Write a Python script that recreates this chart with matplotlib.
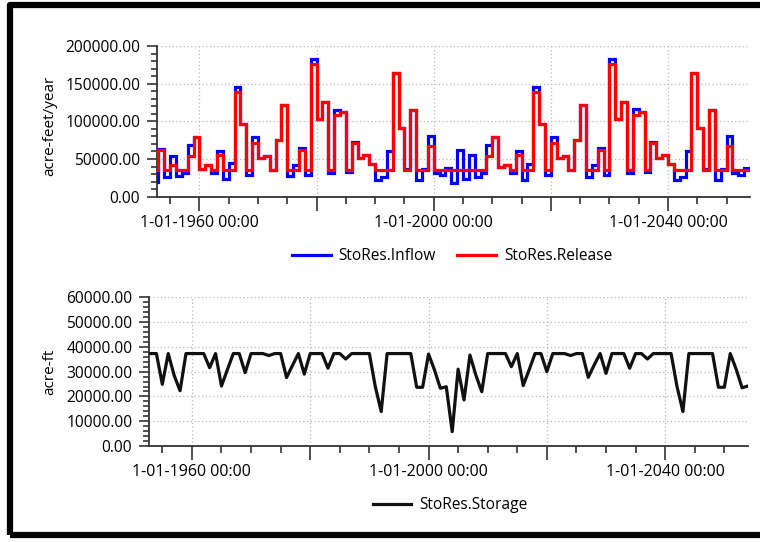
import matplotlib.pyplot as plt
from matplotlib.lines import Line2D
from matplotlib.patches import Rectangle
from matplotlib.ticker import MultipleLocator, FuncFormatter
import numpy as np

plt.rcParams["font.family"] = ["Open Sans", "DejaVu Sans"]

# yearly values, acre-feet/year (step from 1 Jan of each year)
years = list(range(1952, 2054))
inflow = [
    20000, 63000, 25600, 54000, 27000, 32000, 68500, 79000, 36600, 42000,
    31800, 60000, 23000, 44600, 145000, 96000, 28700, 79000, 52000, 54000,
    36000, 75000, 122000, 27000, 42000, 64000, 28700, 183000, 103000, 126000,
    31000, 115000, 113000, 33000, 72000, 52000, 55000, 44000, 22000, 26500,
    60000, 164000, 90600, 36500, 115000, 22000, 36500, 81000, 32000, 28700,
    38500, 17700, 62000, 24000, 55000, 26500, 31800, 68500, 79500, 40000,
    42000, 31800, 60000, 22000, 43000, 146000, 96000, 28700, 79000, 52000,
    54000, 36000, 75000, 122000, 26500, 42000, 64000, 28700, 183000, 103000,
    126000, 31000, 116000, 113000, 33000, 72000, 52000, 55000, 44000, 22000,
    26500, 60000, 164000, 90600, 36500, 115000, 22000, 36500, 81000, 32000,
    28700, 38500,
]
release = [
    36000, 62000, 36000, 41500, 36000, 36000, 54000, 79000, 36600, 42000,
    36000, 55800, 36000, 36000, 139000, 96000, 36000, 71000, 52000, 54000,
    36000, 75000, 122000, 36000, 36000, 62000, 36000, 176000, 103000, 126000,
    36000, 108000, 112000, 36000, 71000, 52000, 55000, 44000, 36000, 36000,
    36000, 164000, 90600, 36000, 115000, 36000, 36000, 67000, 36000, 36000,
    36000, 36000, 36000, 36000, 36000, 36000, 36000, 53500, 79500, 40000,
    42000, 36000, 55800, 36000, 36000, 139000, 96000, 36000, 71000, 52000,
    54000, 36000, 75000, 122000, 36000, 36000, 62000, 36000, 176000, 103000,
    126000, 36000, 108000, 112000, 36000, 71000, 52000, 55000, 44000, 36000,
    36000, 36000, 164000, 90600, 36000, 115000, 36000, 36000, 67000, 36000,
    36000, 36000,
]

# storage at 1 Jan of each year, acre-ft
storage_years = list(range(1952, 2055))
storage = [
    37300, 37300, 37300, 24900, 37300, 28500, 22300, 37300, 37300, 37300,
    37300, 31600, 37300, 24200, 30800, 37300, 37300, 29600, 37300, 37300,
    37300, 36500, 37300, 37300, 27600, 32500, 37300, 29000, 37300, 37300,
    37300, 31400, 37300, 37300, 35100, 37300, 37300, 37300, 37300, 24000,
    13900, 37300, 37300, 37300, 37300, 37300, 23700, 23700, 37100, 30700,
    23300, 23900, 5800, 31000, 18600, 36700, 28600, 21900, 37300, 37300,
    37300, 37300, 32000, 37300, 24400, 30700, 37300, 37300, 30000, 37300,
    37300, 37300, 36500, 37300, 37300, 27700, 32700, 37300, 29300, 37300,
    37300, 37300, 31400, 37300, 37300, 35100, 37300, 37300, 37300, 37300,
    24000, 13900, 37300, 37300, 37300, 37300, 37300, 23700, 23700, 37300,
    31000, 23500, 24200,
]

W, H = 760, 542
fig = plt.figure(figsize=(W / 100, H / 100), dpi=100)
ax1 = fig.add_axes([157 / W, 1 - 196.7 / H, 593 / W, 150.7 / H])
ax2 = fig.add_axes([149 / W, 1 - 446 / H, 599 / W, 148.7 / H])

edges = np.append(years, years[-1] + 1)
ax1.stairs(inflow, edges, color="#0000ff", lw=2.3, baseline=None, zorder=3)
ax1.stairs(release, edges, color="#ff0000", lw=2.3, baseline=None, zorder=4)
ax2.plot(storage_years, storage, color="#111111", lw=2.3, zorder=3)


def date_label(v, pos):
    yr = int(round(v))
    if yr % 40 == 0:
        return f"1-01-{yr} 00:00"
    return ""


for ax, ymax, ymaj, ymin, lab in [
    (ax1, 200000, 50000, 10000, "acre-feet/year"),
    (ax2, 60000, 10000, 2000, "acre-ft"),
]:
    ax.set_xlim(1952.75, 2054.0)
    ax.set_ylim(0, ymax)
    ax.xaxis.set_major_locator(MultipleLocator(20))
    ax.xaxis.set_minor_locator(MultipleLocator(5))
    ax.xaxis.set_major_formatter(FuncFormatter(date_label))
    ax.yaxis.set_major_locator(MultipleLocator(ymaj))
    ax.yaxis.set_minor_locator(MultipleLocator(ymin))
    ax.yaxis.set_major_formatter(FuncFormatter(lambda v, p: f"{v:.2f}"))
    ax.grid(True, which="major", color="#b8b8b8", linestyle=(0, (1, 2)), lw=0.9)
    ax.set_axisbelow(True)
    for side in ["top", "right"]:
        ax.spines[side].set_visible(False)
    for side in ["left", "bottom"]:
        ax.spines[side].set_color("#333333")
        ax.spines[side].set_linewidth(1.3)
    ax.tick_params(axis="x", which="major", length=10, width=1.2, color="#333333",
                   labelsize=11.5, pad=3)
    ax.tick_params(axis="x", which="minor", length=5, width=1.2, color="#333333")
    ax.tick_params(axis="y", which="major", length=7, width=1.2, color="#333333",
                   labelsize=11.2, pad=5)
    ax.tick_params(axis="y", which="minor", length=4, width=1.2, color="#333333")
    ax.set_ylabel(lab, fontsize=11)

ax1.yaxis.set_label_coords((57 - 157) / 593, 0.47)
ax2.yaxis.set_label_coords((57 - 149) / 599, 0.5)

leg_kw = dict(loc="center", frameon=False, fontsize=11.2, handlelength=2.5,
              handletextpad=0.5, columnspacing=1.4)
fig.legend(
    [Line2D([], [], color="#0000ff", lw=2.3), Line2D([], [], color="#ff0000", lw=2.3)],
    ["StoRes.Inflow", "StoRes.Release"],
    ncol=2, bbox_to_anchor=(452 / W, 1 - 256 / H), **leg_kw,
)
fig.legend(
    [Line2D([], [], color="#111111", lw=2.3)],
    ["StoRes.Storage"],
    bbox_to_anchor=(450 / W, 1 - 505 / H), **leg_kw,
)

# black outer frame, open on the right
fig.patches.append(Rectangle((10 / W, 7.5 / H), 1.2, (537.5 - 7.5) / H,
                             transform=fig.transFigure, fill=False,
                             ec="black", lw=4.5, joinstyle="round"))

fig.savefig("out.png", dpi=100)
